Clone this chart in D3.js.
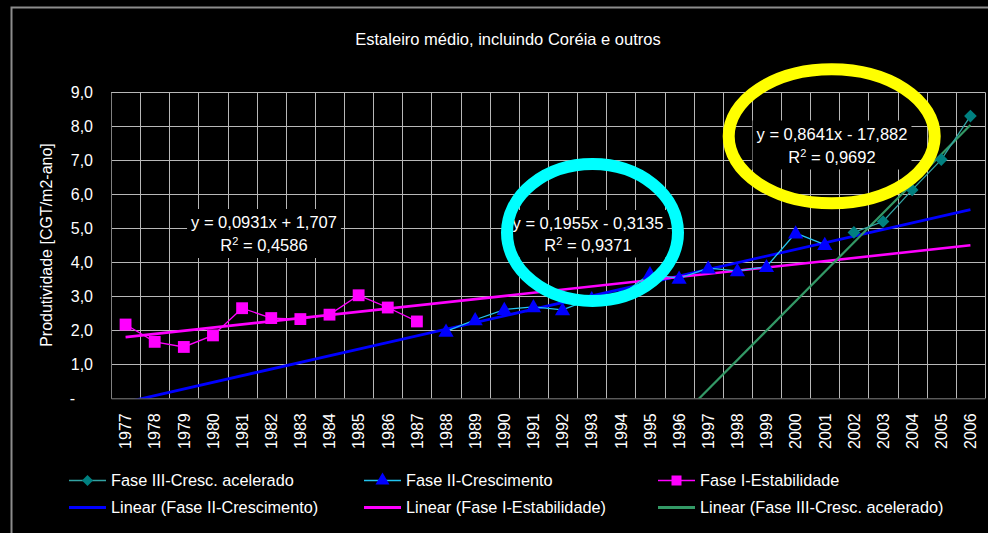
<!DOCTYPE html>
<html>
<head>
<meta charset="utf-8">
<script src="https://cdn.jsdelivr.net/npm/d3@7"></script>
<style>
  html, body { margin: 0; padding: 0; background: #000; }
  svg { display: block; }
  text { font-family: "Liberation Sans", Arial, sans-serif; fill: #ffffff; }
</style>
</head>
<body>
<svg id="chart" width="988" height="533"></svg>
<script>
// ---- data ----
const years = ["1977","1978","1979","1980","1981","1982","1983","1984","1985","1986",
               "1987","1988","1989","1990","1991","1992","1993","1994","1995","1996",
               "1997","1998","1999","2000","2001","2002","2003","2004","2005","2006"];

// Fase I-Estabilidade (1977-1987)
const faseIYears  = ["1977","1978","1979","1980","1981","1982","1983","1984","1985","1986","1987"];
const faseIValues = [2.17, 1.66, 1.51, 1.85, 2.65, 2.36, 2.33, 2.46, 3.03, 2.67, 2.26];

// Fase II-Crescimento (1988-2001)
const faseIIYears  = ["1988","1989","1990","1991","1992","1993","1994","1995","1996","1997","1998","1999","2000","2001"];
const faseIIValues = [1.97, 2.31, 2.61, 2.69, 2.60, 2.93, 3.03, 3.66, 3.53, 3.83, 3.75, 3.87, 4.86, 4.52];

// Fase III-Cresc. acelerado (2002-2006)
const faseIIIYears  = ["2002","2003","2004","2005","2006"];
const faseIIIValues = [4.88, 5.20, 6.13, 7.02, 8.30];

// linear trend coefficients (x = category index, 1977 = 1)
const trendSlopes     = [0.0931, 0.1955, 0.8641];
const trendIntercepts = [1.707, -0.3135, -17.882];
const trendLabelsEq   = ["y = 0,0931x + 1,707", "y = 0,1955x - 0,3135", "y = 0,8641x - 17,882"];
const trendLabelsR2   = ["0,4586", "0,9371", "0,9692"];

const yTicks = [0, 1, 2, 3, 4, 5, 6, 7, 8, 9];

// ---- layout ----
const svg = d3.select("#chart");
const pLeft = 111, pRight = 985, pTop = 92.3, pBottom = 398.3;

const x = d3.scaleBand().domain(years).range([pLeft, pRight]).padding(0);
const bw = x.bandwidth();
const cx = yr => x(yr) + bw / 2;
const xi = d3.scaleLinear().domain([0.5, years.length + 0.5]).range([pLeft, pRight]);
const y = d3.scaleLinear().domain([0, 9]).range([pBottom, pTop]);

const fmt = d => d === 0 ? "-" : d.toFixed(1).replace(".", ",");

// outer chart frame
svg.append("rect")
  .attr("x", 11.5).attr("y", 7.5).attr("width", 1000).attr("height", 560)
  .attr("fill", "#000").attr("stroke", "#8c8c8c").attr("stroke-width", 2);

// title
svg.append("text")
  .attr("x", 508).attr("y", 45)
  .attr("text-anchor", "middle")
  .style("font-size", "16.5px")
  .text("Estaleiro médio, incluindo Coréia e outros");

// gridlines
const grid = svg.append("g").attr("stroke", "#b8b8b8").attr("stroke-width", 1);
grid.selectAll("line.h").data(yTicks.filter(d => d > 0)).join("line")
  .attr("x1", pLeft).attr("x2", pRight)
  .attr("y1", d => Math.round(y(d)) + 0.5).attr("y2", d => Math.round(y(d)) + 0.5);
grid.selectAll("line.v").data(years.slice(1).concat(["end"])).join("line")
  .attr("x1", d => Math.round(d === "end" ? pRight : x(d)) + 0.5)
  .attr("x2", d => Math.round(d === "end" ? pRight : x(d)) + 0.5)
  .attr("y1", pTop).attr("y2", pBottom);

// axes
const yAxis = svg.append("g").attr("transform", `translate(${pLeft},0)`)
  .call(d3.axisLeft(y).tickValues(yTicks).tickSize(0).tickPadding(18).tickFormat(fmt));
yAxis.select(".domain").attr("stroke", "#808080");
yAxis.selectAll("text").style("font-size", "16px").attr("fill", "#fff")
  .attr("dx", d => d === 0 ? -18 : 0);

const xAxis = svg.append("g").attr("transform", `translate(0,${pBottom})`)
  .call(d3.axisBottom(x).tickSize(0));
xAxis.select(".domain").attr("stroke", "#808080");
xAxis.selectAll("text")
  .style("font-size", "16px").attr("fill", "#fff")
  .attr("transform", "rotate(-90)")
  .attr("text-anchor", "end")
  .attr("x", -15).attr("y", 0).attr("dy", "0.36em");

// y-axis title
svg.append("text")
  .attr("transform", "translate(52,245) rotate(-90)")
  .attr("text-anchor", "middle")
  .style("font-size", "16px")
  .text("Produtividade [CGT/m2-ano]");

// clip for trendlines
svg.append("clipPath").attr("id", "plotClip")
  .append("rect").attr("x", pLeft).attr("y", pTop).attr("width", pRight - pLeft).attr("height", pBottom - pTop);

const trendColors = ["#ff00ff", "#0000ff", "#339966"];
const trendWidths = [2.6, 2.8, 2.2];
const trendG = svg.append("g").attr("clip-path", "url(#plotClip)");
const trendOrder = [1, 0, 2];
trendOrder.forEach(k => {
  const xs = [1, years.length];
  trendG.append("line")
    .attr("x1", xi(xs[0])).attr("y1", y(trendSlopes[k] * xs[0] + trendIntercepts[k]))
    .attr("x2", xi(xs[1])).attr("y2", y(trendSlopes[k] * xs[1] + trendIntercepts[k]))
    .attr("stroke", trendColors[k]).attr("stroke-width", trendWidths[k]);
});

// series lines + markers
const line = d3.line().x(d => cx(d[0])).y(d => y(d[1]));
const pairs = (ys, vs) => ys.map((yr, i) => [yr, vs[i]]);

const sI = pairs(faseIYears, faseIValues);
const sII = pairs(faseIIYears, faseIIValues);
const sIII = pairs(faseIIIYears, faseIIIValues);

svg.append("path").datum(sI).attr("d", line).attr("fill", "none").attr("stroke", "#ff00ff").attr("stroke-width", 1.3);
svg.append("path").datum(sII).attr("d", line).attr("fill", "none").attr("stroke", "#22c4f0").attr("stroke-width", 1.3);
svg.append("path").datum(sIII).attr("d", line).attr("fill", "none").attr("stroke", "#33a3a3").attr("stroke-width", 1.3);

const sqSym = d3.symbol().type(d3.symbolSquare).size(140);
const triSym = d3.symbol().type(d3.symbolTriangle).size(100);
const diaSym = d3.symbol().type(d3.symbolSquare).size(80);   // drawn rotated 45° as a diamond

svg.append("g").selectAll("path").data(sI).join("path")
  .attr("d", sqSym).attr("transform", d => `translate(${cx(d[0])},${y(d[1])})`).attr("fill", "#ff00ff");
svg.append("g").selectAll("path").data(sII).join("path")
  .attr("d", triSym).attr("transform", d => `translate(${cx(d[0])},${y(d[1]) + 1})`).attr("fill", "#0000ff");
svg.append("g").selectAll("path").data(sIII).join("path")
  .attr("d", diaSym).attr("transform", d => `translate(${cx(d[0])},${y(d[1])}) rotate(45)`).attr("fill", "#008080");

// trend equation labels (black backing boxes)
const labelPos = [[264, 228, 251], [588, 229, 250.5], [832, 139.5, 162.5]];
labelPos.forEach((p, k) => {
  const g = svg.append("g");
  const bg = g.append("rect").attr("fill", "#000");
  const t1 = g.append("text").attr("x", p[0]).attr("y", p[1]).attr("text-anchor", "middle")
    .style("font-size", "16.5px").text(trendLabelsEq[k]);
  const t2 = g.append("text").attr("x", p[0]).attr("y", p[2]).attr("text-anchor", "middle")
    .style("font-size", "16.5px");
  t2.append("tspan").text("R");
  t2.append("tspan").attr("dy", -6).style("font-size", "11px").text("2");
  t2.append("tspan").attr("dy", 6).text(" = " + trendLabelsR2[k]);
  const b1 = t1.node().getBBox(), b2 = t2.node().getBBox();
  const x0 = Math.min(b1.x, b2.x) - 4, x1 = Math.max(b1.x + b1.width, b2.x + b2.width) + 4;
  bg.attr("x", x0).attr("y", b1.y - 4).attr("width", x1 - x0).attr("height", b2.y + b2.height - b1.y + 8);
});

// highlight rings
svg.append("ellipse").attr("cx", 592.5).attr("cy", 232.5).attr("rx", 85.5).attr("ry", 68.5)
  .attr("fill", "none").attr("stroke", "#00ffff").attr("stroke-width", 12);
svg.append("ellipse").attr("cx", 831.7).attr("cy", 136.3).attr("rx", 103).attr("ry", 67)
  .attr("fill", "none").attr("stroke", "#ffff00").attr("stroke-width", 12);

// legend
const legendItems = [
  { label: "Fase III-Cresc. acelerado", color: "#33a3a3", marker: "dia", mcolor: "#008080", w: 1.3, col: 0, row: 0 },
  { label: "Fase II-Crescimento", color: "#22c4f0", marker: "tri", mcolor: "#0000ff", w: 1.3, col: 1, row: 0 },
  { label: "Fase I-Estabilidade", color: "#ff00ff", marker: "sq", mcolor: "#ff00ff", w: 1.3, col: 2, row: 0 },
  { label: "Linear (Fase II-Crescimento)", color: "#0000ff", marker: null, w: 3, col: 0, row: 1 },
  { label: "Linear (Fase I-Estabilidade)", color: "#ff00ff", marker: null, w: 3, col: 1, row: 1 },
  { label: "Linear (Fase III-Cresc. acelerado)", color: "#339966", marker: null, w: 3, col: 2, row: 1 }
];
const legendSym = {
  dia: d3.symbol().type(d3.symbolSquare).size(60),
  tri: d3.symbol().type(d3.symbolTriangle).size(85),
  sq:  d3.symbol().type(d3.symbolSquare).size(100)
};
const colX = [69, 364, 658], rowY = [480.5, 507.5];
const lg = svg.append("g").selectAll("g").data(legendItems).join("g")
  .attr("transform", d => `translate(${colX[d.col]},${rowY[d.row]})`);
lg.append("line").attr("x1", 0).attr("x2", 37).attr("stroke", d => d.color).attr("stroke-width", d => d.w);
lg.filter(d => d.marker).append("path")
  .attr("d", d => legendSym[d.marker]())
  .attr("transform", d => d.marker === "dia" ? "translate(18.5,0) rotate(45)" : "translate(18.5,0)")
  .attr("fill", d => d.mcolor);
lg.append("text").attr("x", 42).attr("dy", "0.36em").style("font-size", "16.3px").text(d => d.label);
</script>
</body>
</html>
